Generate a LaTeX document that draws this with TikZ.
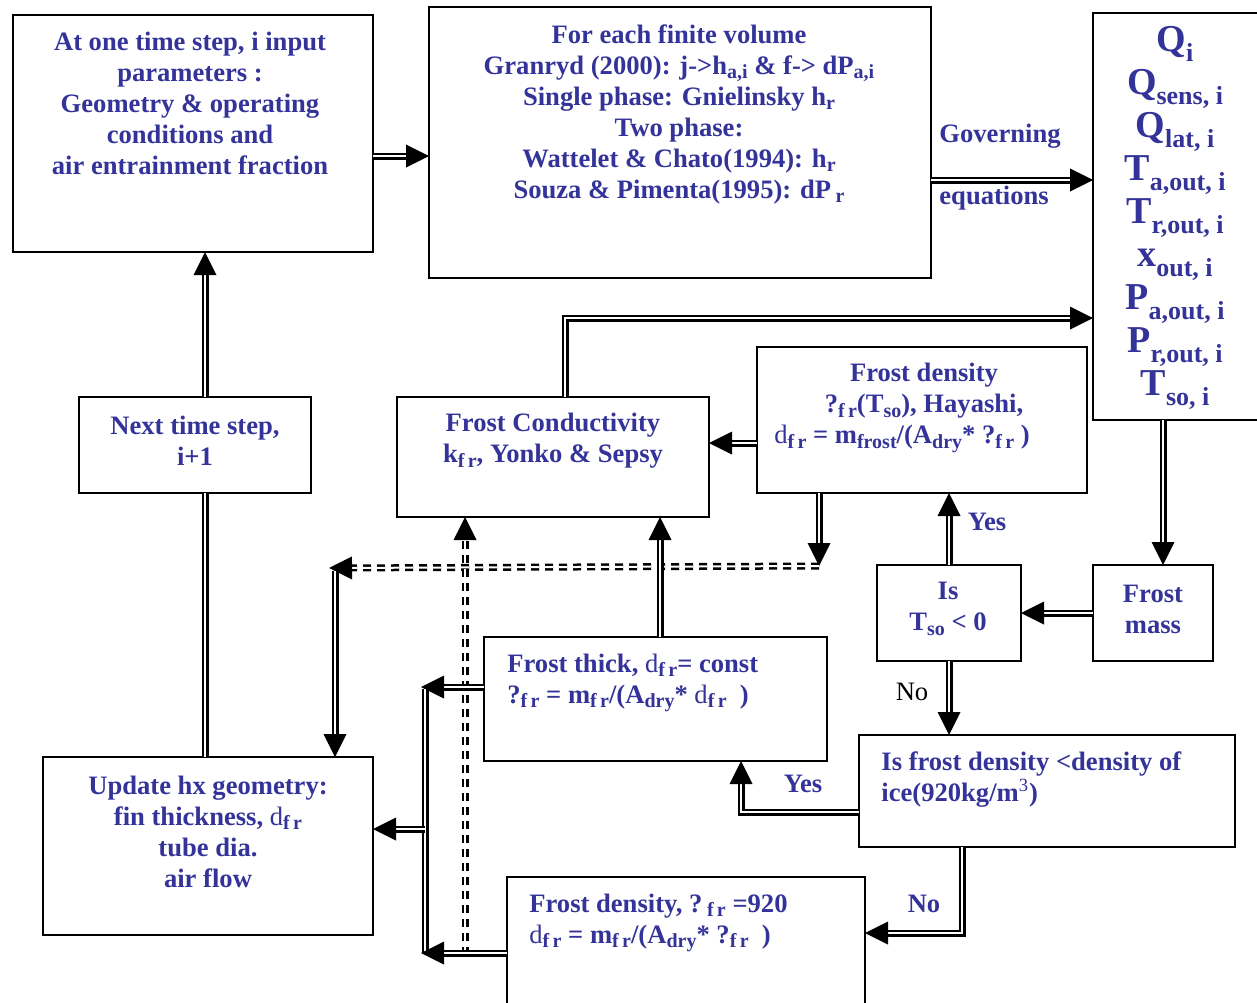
\documentclass[tikz,border=0pt]{standalone}
\usepackage{fontspec}
\setmainfont{Liberation Serif}
\usetikzlibrary{decorations.markings}
\definecolor{tb}{RGB}{51,51,153}
\newcommand\sbx[1]{\raisebox{-0.35ex}{\fontsize{10}{10}\selectfont #1}}
\newcommand\sbbig[1]{\raisebox{-0.6ex}{\fontsize{13}{13}\selectfont #1}}
\newcommand\dfr{{\mdseries d}\sbx{f\,r}}
\tikzset{
  box/.style={draw, line width=1.2pt, inner sep=0pt, outer sep=0pt},
  txt/.style={text=tb, font=\bfseries\fontsize{13.3}{15.5}\selectfont, align=center, inner sep=0pt},
  dbl/.style={draw, double, double distance=1pt, line width=1.25pt},
  arr/.style={dbl, shorten >=8pt, postaction={decorate, decoration={markings, mark=at position 1 with {\fill[black] (0pt,0pt) -- (-11.5pt,5.75pt) -- (-11.5pt,-5.75pt) -- cycle;}}}},
  dsh/.style={dash pattern=on 4pt off 3pt}
}
\begin{document}
\begin{tikzpicture}[x=0.5pt,y=-0.5pt]
\useasboundingbox (0,0) rectangle (1257,1002);
% boxes
\node[box, minimum width=180pt, minimum height=118.5pt] (inp) at (193,133.5) {};
\node[box, minimum width=251pt, minimum height=135.5pt] (fv) at (680,142.5) {};
\node[box, minimum width=84.5pt, minimum height=203.5pt] (res) at (1177.5,216.5) {};
\node[box, minimum width=165pt, minimum height=73pt] (fden) at (922,420) {};
\node[box, minimum width=156pt, minimum height=60pt] (fcond) at (553,457) {};
\node[box, minimum width=116pt, minimum height=48pt] (next) at (195,445) {};
\node[box, minimum width=72pt, minimum height=48pt] (isT) at (949,613) {};
\node[box, minimum width=60pt, minimum height=48pt] (fmass) at (1153,613) {};
\node[box, minimum width=171.5pt, minimum height=62pt] (fthick) at (655.5,699) {};
\node[box, minimum width=188pt, minimum height=56pt] (isden) at (1047,791) {};
\node[box, minimum width=165pt, minimum height=89pt] (upd) at (208,846) {};
\node[box, minimum width=179pt, minimum height=66.5pt] (f920) at (686,943.5) {};
% texts
\node[txt] (tinp) at (190,103) {At one time step, i input\\ parameters :\\ Geometry \& operating\\ conditions and\\ air entrainment fraction};
\node[txt] (tfv) at (679,114) {For each finite volume\\
Granryd (2000): j->h\sbx{a,i} \& f-> dP\sbx{a,i}\\
Single phase: Gnielinsky h\sbx{r}\\
Two phase:\\
Wattelet \& Chato(1994): h\sbx{r}\\
Souza \& Pimenta(1995): dP\,\sbx{r}};
\node[txt, font=\bfseries\fontsize{19}{21.5}\selectfont] (tres) at (1175,218) {Q\sbbig{i}\\ Q\sbbig{sens, i}\\ Q\sbbig{lat, i}\\ T\sbbig{a,out, i}\\ T\sbbig{r,out, i}\\ x\sbbig{out, i}\\ P\sbbig{a,out, i}\\ P\sbbig{r,out, i}\\ T\sbbig{so, i}};
\node[txt] (tfden) at (924,408) {Frost density\\ ?\sbx{f\,r}(T\sbx{so}), Hayashi,\\ \dfr{} = m\sbx{frost}/(A\sbx{dry}* ?\sbx{f\,r} )\hspace*{22pt}};
\node[txt] (tfcond) at (553,441) {Frost Conductivity\\ k\sbx{f\,r}, Yonko \& Sepsy};
\node[txt] (tnext) at (195,441) {Next time step,\\ i+1};
\node[txt] (tisT) at (948,609) {Is\\ T\sbx{so} < 0};
\node[txt] (tfmass) at (1153,609) {Frost\\ mass};
\node[txt, align=left, anchor=west] (tfthick) at (507,683) {Frost thick, \dfr= const\\ ?\sbx{f\,r} = m\sbx{f\,r}/(A\sbx{dry}* \dfr{}~ )};
\node[txt, align=left, anchor=west] (tisden) at (881,780) {Is frost density <density of\\ ice(920kg/m\textsuperscript{\mdseries 3})};
\node[txt] (tupd) at (208,832) {Update hx geometry:\\ fin thickness, \dfr\\ tube dia.\\ air flow};
\node[txt, align=left, anchor=west] (tf920) at (529,923) {Frost density, ?\,\sbx{f\,r} =920\\ \dfr{} = m\sbx{f\,r}/(A\sbx{dry}* ?\sbx{f\,r}~ )};
% connector labels
\node[txt, anchor=west] (lgov) at (939,136) {Governing};
\node[txt, anchor=west] (leq) at (939,198) {equations};
\node[txt] (lyes1) at (987,522) {Yes};
\node[txt] (lyes2) at (803,784) {Yes};
\node[inner sep=0pt, font=\fontsize{13.3}{15.5}\selectfont] (lno1) at (912,692) {No};
\node[txt] (lno2) at (924,904) {No};
% free-end coordinates
\coordinate (dj) at (819,566);
\coordinate (dl) at (329,568);
\coordinate (vb) at (335,571);
\coordinate (dv) at (465,955);
\coordinate (bt) at (425,687);
\coordinate (bb) at (425,953);
% connectors
\draw[arr] (inp.east |- 0,156) -- (fv.west |- 0,156);
\draw[arr] (fv.east |- 0,180) -- (res.west |- 0,180);
\draw[arr] (res.south -| 1163,0) -- (fmass.north -| 1163,0);
\draw[arr] (fmass.west) -- (isT.east);
\draw[arr] (isT.north) -- (fden.south -| isT.north);
\draw[arr] (isT.south) -- (isden.north -| isT.south);
\draw[arr] (isden.west |- 0,812) -- (741,812) -- (fthick.south -| 741,0);
\draw[arr] (isden.south -| 962,0) -- (962,933) -- (f920.east |- 0,933);
\draw[arr] (fden.west |- 0,443) -- (fcond.east |- 0,443);
\draw[arr] (fden.south -| dj) -- (dj);
\draw[arr, dsh] (dj) -- (dl);
\draw[arr] (vb) -- (upd.north -| vb);
\draw[arr] (fcond.north -| 565,0) -- (565,318) -- (res.west |- 0,318);
\draw[arr] (fthick.north -| 660,0) -- (fcond.south -| 660,0);
\draw[arr, dsh] (dv) -- (fcond.south -| dv);
\draw[arr] (fthick.west |- bt) -- ([xshift=-2pt]bt);
\draw[dbl] ([yshift=-1pt]bt) -- (bb);
\draw[arr] (f920.west |- bb) -- ([xshift=-2pt]bb);
\draw[arr] (bb |- 0,829) -- (upd.east |- 0,829);
\draw[arr] (next.north -| 205,0) -- (inp.south -| 205,0);
\draw[dbl] (upd.north -| 205,0) -- (next.south -| 205,0);
\end{tikzpicture}
\end{document}
